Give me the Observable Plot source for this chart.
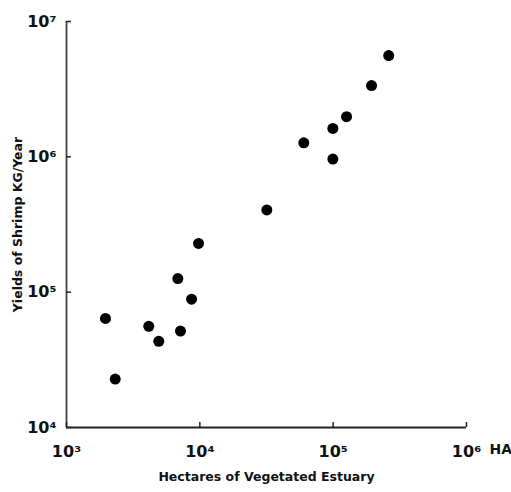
<!DOCTYPE html>
<html>
<head>
<meta charset="utf-8">
<script src="https://cdn.jsdelivr.net/npm/d3@7"></script>
<script src="https://cdn.jsdelivr.net/npm/@observablehq/plot@0.6"></script>
<style>
  html, body { margin: 0; padding: 0; background: #fff; }
  #chart svg { display: block; }
</style>
</head>
<body>
<div id="chart"></div>
<script>
// Hectares of vegetated estuary (HA)
const hectares = [1960, 2320, 4140, 4920, 6840, 7160, 8670, 9780, 31800, 60200, 99500, 99500, 126000, 194000, 261000];
// Yields of shrimp (KG/Year)
const yields   = [64000, 22800, 55900, 43300, 126000, 51600, 88700, 229000, 405000, 1270000, 962000, 1620000, 1980000, 3360000, 5600000];

const xTicks = [1e3, 1e4, 1e5, 1e6];
const yTicks = [1e4, 1e5, 1e6, 1e7];
const xTickLabels = ["10³", "10⁴", "10⁵", "10⁶"];
const yTickLabels = ["10⁴", "10⁵", "10⁶", "10⁷"];
const xTitle = "Hectares of Vegetated Estuary";
const yTitle = "Yields of Shrimp KG/Year";
const xUnit = "HA";

const data = hectares.map((h, i) => ({h, y: yields[i]}));
const fmtX = d => xTickLabels[xTicks.indexOf(d)];
const fmtY = d => yTickLabels[yTicks.indexOf(d)];

const W = 511, H = 492, ML = 66, MR = 45, MT = 21, MB = 65, TICK = 5;

const chart = Plot.plot({
  width: W,
  height: H,
  marginLeft: ML,
  marginRight: MR,
  marginTop: MT,
  marginBottom: MB,
  style: {fontFamily: "'DejaVu Sans', sans-serif", color: "#111", background: "#fff"},
  x: {type: "log", domain: [1e3, 1e6]},
  y: {type: "log", domain: [1e4, 1e7]},
  marks: [
    Plot.ruleY([1e4], {stroke: "#222", strokeWidth: 1.8}),
    Plot.ruleX([1e3], {stroke: "#444", strokeWidth: 1.8}),
    // inward tick marks
    Plot.tickX(xTicks, {x: d => d, insetTop: H - MT - MB - TICK, stroke: "#222", strokeWidth: 1.5}),
    Plot.tickY(yTicks, {y: d => d, insetRight: W - ML - MR - TICK, stroke: "#222", strokeWidth: 1.5}),
    Plot.axisX(xTicks, {tickSize: 0, tickPadding: 18, tickFormat: fmtX, fontSize: 16, fontWeight: "bold",
      label: xTitle, labelAnchor: "center", labelOffset: 53, labelArrow: "none"}),
    Plot.axisY(yTicks, {tickSize: 0, tickPadding: 10, tickFormat: fmtY, fontSize: 16, fontWeight: "bold",
      label: yTitle, labelAnchor: "center", labelOffset: 53, labelArrow: "none"}),
    Plot.text([xUnit], {frameAnchor: "bottom-right", textAnchor: "start", dx: 23, dy: 26, fontSize: 14, fontWeight: "bold", fill: "#111"}),
    Plot.dot(data, {x: "h", y: "y", r: 5.5, fill: "#000", stroke: "none"})
  ]
});
// style the axis titles
chart.querySelectorAll("[aria-label$='axis label'] text").forEach(t => {
  t.setAttribute("font-size", "12.5");
  t.setAttribute("font-weight", "bold");
});
document.getElementById("chart").appendChild(chart);
</script>
</body>
</html>
